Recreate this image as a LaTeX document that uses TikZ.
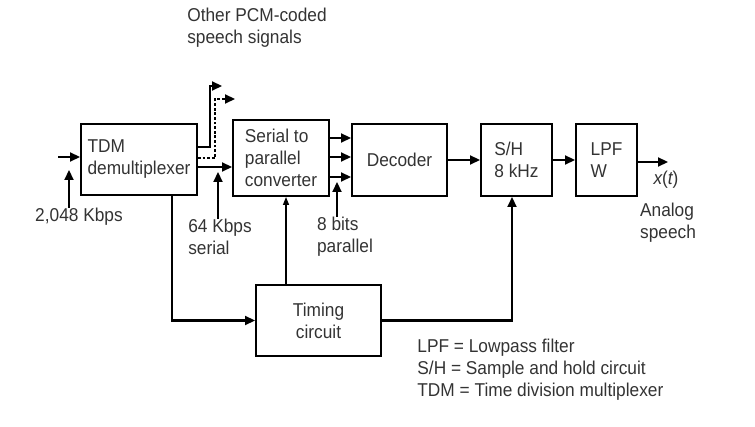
\documentclass[tikz,border=0pt]{standalone}
\usepackage{fontspec}
\setmainfont{Liberation Sans}[FakeStretch=0.93]
\usetikzlibrary{arrows.meta,positioning}

\begin{document}
\begin{tikzpicture}[x=0.5pt, y=-0.5pt, font=\fontsize{9.3}{11}\selectfont,
  blk/.style={draw, line width=1pt, inner sep=2pt, align=left, text=black!80},
  lbl/.style={inner sep=0pt, align=left, text=black!80},
  sig/.style={line width=1.1pt, -{Triangle[length=5pt,width=4.5pt]}}]
  \useasboundingbox (0,0) rectangle (755,427);
  % blocks
  \node[blk, minimum width=58pt, minimum height=35.5pt] (tdm) at (139,159.5) {TDM\\demultiplexer};
  \node[blk, minimum width=48pt, minimum height=38pt]   (ser) at (281,158)   {Serial to\\parallel\\converter};
  \node[blk, minimum width=47.5pt, minimum height=36pt] (dec) at (399.5,160) {Decoder};
  \node[blk, minimum width=35.5pt, minimum height=36pt] (sh)  at (516.5,160) {S/H\\8 kHz};
  \node[blk, minimum width=30.5pt, minimum height=36pt] (lpf) at (606.5,160) {LPF\\W};
  \node[blk, align=center, minimum width=62.5pt, minimum height=35.5pt] (tim) at (318.5,320.5) {Timing\\circuit};
  % labels
  \node[lbl] (pcm) at (257,27.5) {Other PCM-coded\\speech signals};
  \node[lbl] (rate) at (79,217) {2,048 Kbps};
  \node[lbl] (k64) at (220,237) {64 Kbps\\serial};
  \node[lbl] (b8) at (345,237) {8 bits\\parallel};
  \node[lbl] (xt) at (666,180) {{\itshape x}({\itshape t})};
  \node[lbl] (ana) at (668,223) {Analog\\speech};
  \node[lbl, anchor=west] (key) at (417,370)
    {LPF = Lowpass filter\\S/H = Sample and hold circuit\\TDM = Time division multiplexer};
  % free ends
  \coordinate (in) at (58,157);
  \coordinate (rate tip) at (69,170);
  \coordinate (k64 tip) at (218,172);
  \coordinate (b8 tip) at (337,182);
  \coordinate (pcmA) at (222,86);
  \coordinate (pcmB) at (235,99);
  \coordinate (out) at (668,162);
  % signal path
  \draw[sig] (in) -- (tdm.west |- in);
  \draw[sig] (rate.north -| rate tip) -- (rate tip);
  \draw[sig] ([yshift=-3.75pt]tdm.east) -- ([yshift=-3.75pt]tdm.east -| ser.west);
  \draw[sig] (k64.north -| k64 tip) -- (k64 tip);
  \draw[sig] ([yshift=6.25pt]tdm.east) -| ([xshift=-6pt]pcmA) -- (pcmA);
  \draw[sig, dash pattern=on 1.4pt off 0.9pt] ([yshift=0.75pt]tdm.east) -| ([xshift=-10pt]pcmB) -- (pcmB);
  \foreach \dy in {10,0.5,-9.5}
    \draw[sig] ([yshift=\dy pt]ser.east) -- ([yshift=\dy pt]ser.east -| dec.west);
  \draw[sig] (b8.north -| b8 tip) -- (b8 tip);
  \draw[sig] (dec) -- (sh);
  \draw[sig] (sh) -- (lpf);
  \draw[sig] (lpf.east |- out) -- (out);
  % timing
  \draw[sig] ([xshift=16.5pt]tdm.south) |- (tim.west);
  \draw[line width=0.7pt, -{Triangle[length=4pt,width=3pt]}] ([xshift=2.5pt]ser.south |- tim.north) -- ([xshift=2.5pt]ser.south);
  \draw[sig] (tim.east) -| ([xshift=-2.25pt]sh.south);
\end{tikzpicture}
\end{document}
